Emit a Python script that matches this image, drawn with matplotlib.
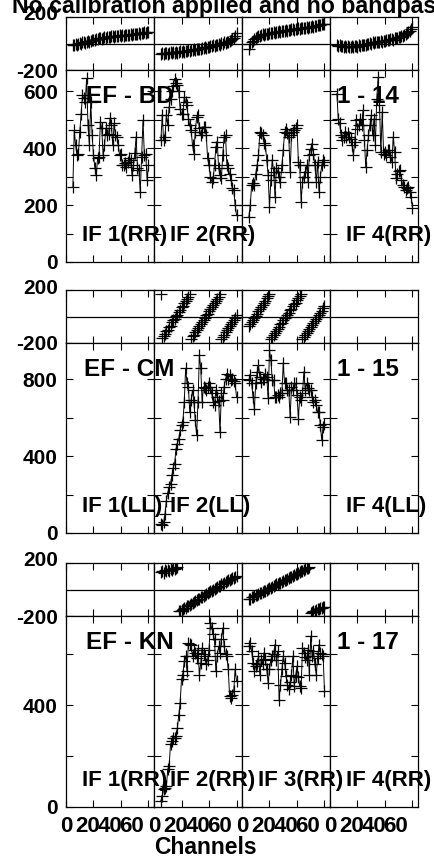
import matplotlib
matplotlib.use("Agg")
from matplotlib import pyplot as plt
from matplotlib.transforms import ScaledTranslation

plt.rcParams['font.family'] = ['Liberation Sans', 'DejaVu Sans']
plt.rcParams['font.weight'] = 'bold'

# channels plotted in every IF
chan = list(range(5, 61))

# EF - BD (1 - 14), amplitudes and phases per IF
bd_amp_if1 = [264, 463, 410, 375, 380, 457, 520, 586, 575, 562,
              646, 480, 410, 562, 445, 375, 330, 305, 365, 370,
              492, 470, 375, 410, 470, 445, 450, 505, 480, 410,
              487, 445, 440, 410, 375, 380, 340, 340, 347, 335,
              350, 365, 360, 305, 340, 382, 440, 330, 325, 247,
              370, 498, 375, 380, 288, 340]
bd_amp_if2 = [428, 516, 428, 440, 516, 480, 545, 574, 600, 620,
              645, 630, 621, 600, 539, 522, 522, 580, 563, 551,
              504, 480, 463, 411, 381, 457, 510, 516, 470, 446,
              457, 475, 475, 446, 364, 340, 300, 282, 294, 340,
              405, 422, 330, 305, 294, 375, 440, 446, 340, 329,
              310, 288, 260, 253, 200, 165]
bd_amp_if3 = [159, 200, 270, 276, 270, 311, 340, 375, 457, 455,
              446, 420, 411, 358, 305, 194, 290, 358, 317, 229,
              329, 317, 300, 282, 340, 393, 457, 469, 455, 440,
              317, 446, 457, 463, 470, 481, 352, 340, 212, 282,
              300, 317, 340, 282, 375, 399, 416, 380, 340, 282,
              352, 247, 300, 340, 358, 352]
bd_amp_if4 = [592, 504, 487, 446, 428, 440, 457, 440, 452, 440,
              434, 410, 375, 422, 498, 469, 480, 504, 481, 533,
              428, 334, 393, 446, 480, 516, 446, 504, 411, 574,
              650, 551, 387, 527, 381, 387, 375, 393, 393, 370,
              352, 440, 387, 294, 311, 320, 323, 288, 270, 264,
              253, 259, 264, 247, 230, 191]
bd_ph_if1 = [-15, -10, -5, -12, 0, 5, -2, 8, 12, 6,
             15, 20, 14, 22, 25, 30, 28, 36, 33, 38,
             42, 36, 45, 48, 44, 50, 52, 47, 55, 57,
             52, 58, 60, 56, 62, 58, 64, 60, 66, 62,
             67, 64, 70, 66, 72, 68, 75, 70, 78, 74,
             80, 76, 84, 80, 88, 85]
bd_ph_if2 = [-78, -70, -80, -74, -68, -76, -70, -66, -72, -64,
             -68, -62, -70, -64, -60, -66, -58, -62, -55, -60,
             -52, -56, -48, -52, -45, -48, -40, -44, -38, -40,
             -34, -36, -30, -32, -25, -28, -20, -22, -15, -18,
             -10, -12, -4, -8, 2, -2, 8, 5, 15, 12,
             22, 28, 35, 45, 60, 78]
bd_ph_if3 = [-40, -5, 10, 20, 35, 45, 50, 55, 60, 62,
             68, 65, 72, 74, 70, 78, 80, 76, 84, 82,
             88, 86, 92, 90, 95, 92, 98, 100, 96, 104,
             102, 106, 108, 104, 112, 110, 114, 112, 118, 115,
             120, 118, 124, 120, 126, 124, 130, 128, 134, 130,
             138, 142, 140, 148, 145, 150]
bd_ph_if4 = [-12, -18, -15, -22, -20, -25, -18, -28, -22, -30,
             -25, -20, -28, -22, -18, -24, -15, -20, -12, -15,
             -8, -10, -2, -5, 2, 0, 8, 5, 10, 8,
             15, 12, 18, 15, 22, 20, 25, 28, 24, 32,
             35, 30, 38, 42, 40, 48, 50, 55, 58, 62,
             70, 78, 88, 98, 110, 125]

# EF - CM (1 - 15), only IF 2 and IF 3 have data
cm_amp_if2 = [47, 40, 56, 100, 169, 210, 239, 256, 300, 340,
              361, 439, 465, 492, 535, 561, 579, 683, 858, 780,
              762, 631, 692, 744, 683, 587, 509, 683, 927, 858,
              683, 762, 753, 744, 762, 779, 760, 727, 683, 666,
              744, 710, 690, 527, 727, 692, 762, 800, 831, 805,
              823, 797, 805, 790, 779, 710]
cm_amp_if3 = [797, 823, 779, 710, 648, 779, 840, 875, 814, 788,
              805, 805, 831, 814, 701, 953, 901, 797, 797, 710,
              710, 718, 710, 727, 727, 884, 779, 779, 744, 744,
              605, 762, 744, 779, 779, 718, 596, 710, 692, 727,
              840, 744, 779, 753, 744, 744, 710, 683, 692, 666,
              631, 631, 561, 483, 553, 570]
cm_ph_if2 = [170, -165, -148, -135, -112, -100, -80, -68, -45, -30,
             -18, 5, 15, 35, 50, 68, 80, 100, 115, 135,
             150, 168, -172, -150, -138, -118, -105, -88, -70, -58,
             -38, -25, -8, 8, 22, 40, 55, 70, 88, 100,
             118, 135, 150, 168, -170, -152, -140, -120, -105, -90,
             -72, -58, -40, -25, -8, 10]
cm_ph_if3 = [-75, -60, -42, -28, -10, 5, 22, 38, 55, 72,
             88, 105, 120, 138, 155, 172, -170, -155, -140, -122,
             -108, -92, -78, -60, -46, -30, -15, 0, 15, 30,
             46, 60, 76, 92, 105, 122, 138, 155, 170, -168,
             -152, -138, -122, -108, -92, -78, -62, -48, -32, -18,
             -2, 15, 30, 45, 62, 80]

# EF - KN (1 - 17), only IF 2 and IF 3 have data
kn_amp_if2 = [24, 43, 69, 75, 82, 148, 161, 246, 259, 272,
              270, 278, 311, 360, 409, 501, 520, 573, 592, 533,
              644, 640, 638, 592, 618, 605, 586, 618, 520, 566,
              625, 600, 592, 560, 579, 618, 723, 703, 680, 658,
              533, 592, 631, 605, 658, 703, 631, 600, 592, 540,
              435, 429, 440, 455, 540, 494]
kn_amp_if3 = [631, 644, 612, 566, 533, 553, 560, 592, 520, 579,
              560, 605, 580, 540, 488, 540, 579, 592, 600, 638,
              579, 612, 422, 480, 540, 592, 566, 514, 481, 462,
              490, 520, 592, 475, 514, 553, 510, 475, 468, 625,
              605, 590, 579, 618, 520, 671, 592, 612, 560, 520,
              586, 638, 605, 600, 592, 455]
kn_ph_if2 = [130, 140, 128, 145, 138, 150, 142, 155, 150, 160,
             155, 165, 170, -165, -160, -152, -150, -140, -138, -128,
             -125, -115, -110, -100, -98, -88, -82, -75, -68, -60,
             -55, -48, -40, -35, -28, -20, -15, -8, 0, 5,
             12, 18, 25, 30, 38, 42, 50, 55, 62, 68,
             72, 80, 85, 90, 95, 102]
kn_ph_if3 = [-72, -68, -60, -58, -50, -45, -40, -35, -28, -25,
             -18, -12, -8, 0, 4, 10, 15, 22, 25, 32,
             38, 42, 48, 52, 60, 65, 70, 75, 82, 88,
             92, 98, 105, 110, 115, 120, 126, 132, 138, 142,
             148, 155, 160, 165, 172, -175, -170, -162, -160, -155,
             -150, -148, -142, -140, -135, -130]

baselines = ['EF - BD', 'EF - CM', 'EF - KN']
antnums = ['1 - 14', '1 - 15', '1 - 17']
amps = [[bd_amp_if1, bd_amp_if2, bd_amp_if3, bd_amp_if4],
        [None, cm_amp_if2, cm_amp_if3, None],
        [None, kn_amp_if2, kn_amp_if3, None]]
phases = [[bd_ph_if1, bd_ph_if2, bd_ph_if3, bd_ph_if4],
          [None, cm_ph_if2, cm_ph_if3, None],
          [None, kn_ph_if2, kn_ph_if3, None]]
if_labels = [['IF 1(RR)', 'IF 2(RR)', None, 'IF 4(RR)'],
             ['IF 1(LL)', 'IF 2(LL)', None, 'IF 4(LL)'],
             ['IF 1(RR)', 'IF 2(RR)', 'IF 3(RR)', 'IF 4(RR)']]
amp_max = [675, 990, 750]
amp_step = [100, 200, 200]
amp_labels = [[0, 200, 400, 600], [0, 400, 800], [0, 400]]
xticks = [0, 20, 40, 60]

W, H = 435.0, 860.0
fig = plt.figure(figsize=(W / 100, H / 100), dpi=100)

col_left = [66, 154, 242, 330]
col_w = 88
# pixel rows: phase top, phase/amp split, amp bottom
rows = [(17, 70, 262), (290, 343, 533), (563, 616, 807)]

tick_fs = 15
lift = ScaledTranslation(0, 4 / 100, fig.dpi_scale_trans)

for g in range(3):
    top, split, bot = rows[g]
    for i in range(4):
        x0 = col_left[i] / W
        axp = fig.add_axes([x0, 1 - split / H, col_w / W, (split - top) / H])
        axa = fig.add_axes([x0, 1 - bot / H, col_w / W, (bot - split) / H])

        for ax in (axp, axa):
            ax.set_xlim(0, 64)
            ax.set_xticks(xticks)
            ax.tick_params(direction='in', top=True, right=True, length=5,
                           width=0.8, labelsize=tick_fs, pad=6)
            for s in ax.spines.values():
                s.set_linewidth(0.9)
            ax.set_xticklabels([])

        # phase panel
        axp.set_ylim(-200, 200)
        axp.set_yticks([-200, 200])
        axp.axhline(0, color='k', lw=0.9)
        if phases[g][i] is not None:
            axp.plot(chan, phases[g][i], ls='none', marker='+', ms=9,
                     mew=0.9, color='k')

        # amplitude panel
        axa.set_ylim(0, amp_max[g])
        yt = list(range(0, amp_max[g], amp_step[g]))
        axa.set_yticks(yt)
        if amps[g][i] is not None:
            axa.plot(chan, amps[g][i], '-', color='k', lw=0.7, marker='+',
                     ms=9, mew=0.9)

        if i == 0:
            axp.set_yticklabels(['-200', '200'])
            axa.set_yticklabels([str(v) if v in amp_labels[g] else ''
                                 for v in yt])
            toplab = axp.get_yticklabels()[1]
            toplab.set_transform(toplab.get_transform() + lift)
        else:
            axp.set_yticklabels([])
            axa.set_yticklabels([])

        # AIPS puts the channel numbers closer together than the ticks
        if g == 2:
            for v in xticks:
                fig.text((col_left[i] + v * 1.1) / W, 1 - 826 / H, str(v),
                         ha='center', va='center', fontsize=16)

        lab = if_labels[g][i]
        if lab:
            fig.text((col_left[i] + 16) / W, 1 - (bot - 21) / H, lab,
                     ha='left', va='baseline', fontsize=16)

    fig.text(174 / W, 1 - (split + 33) / H, baselines[g], ha='right',
             va='baseline', fontsize=17.5)
    fig.text(337 / W, 1 - (split + 33) / H, antnums[g], ha='left',
             va='baseline', fontsize=17.5)

fig.text(12 / W, 1 - 12.5 / H, 'No calibration applied and no bandpass applied',
         ha='left', va='baseline', fontsize=16.7)
fig.text(205 / W, 1 - 848 / H, 'Channels', ha='center', va='center',
         fontsize=16.5)

fig.savefig('out.png', dpi=100)
